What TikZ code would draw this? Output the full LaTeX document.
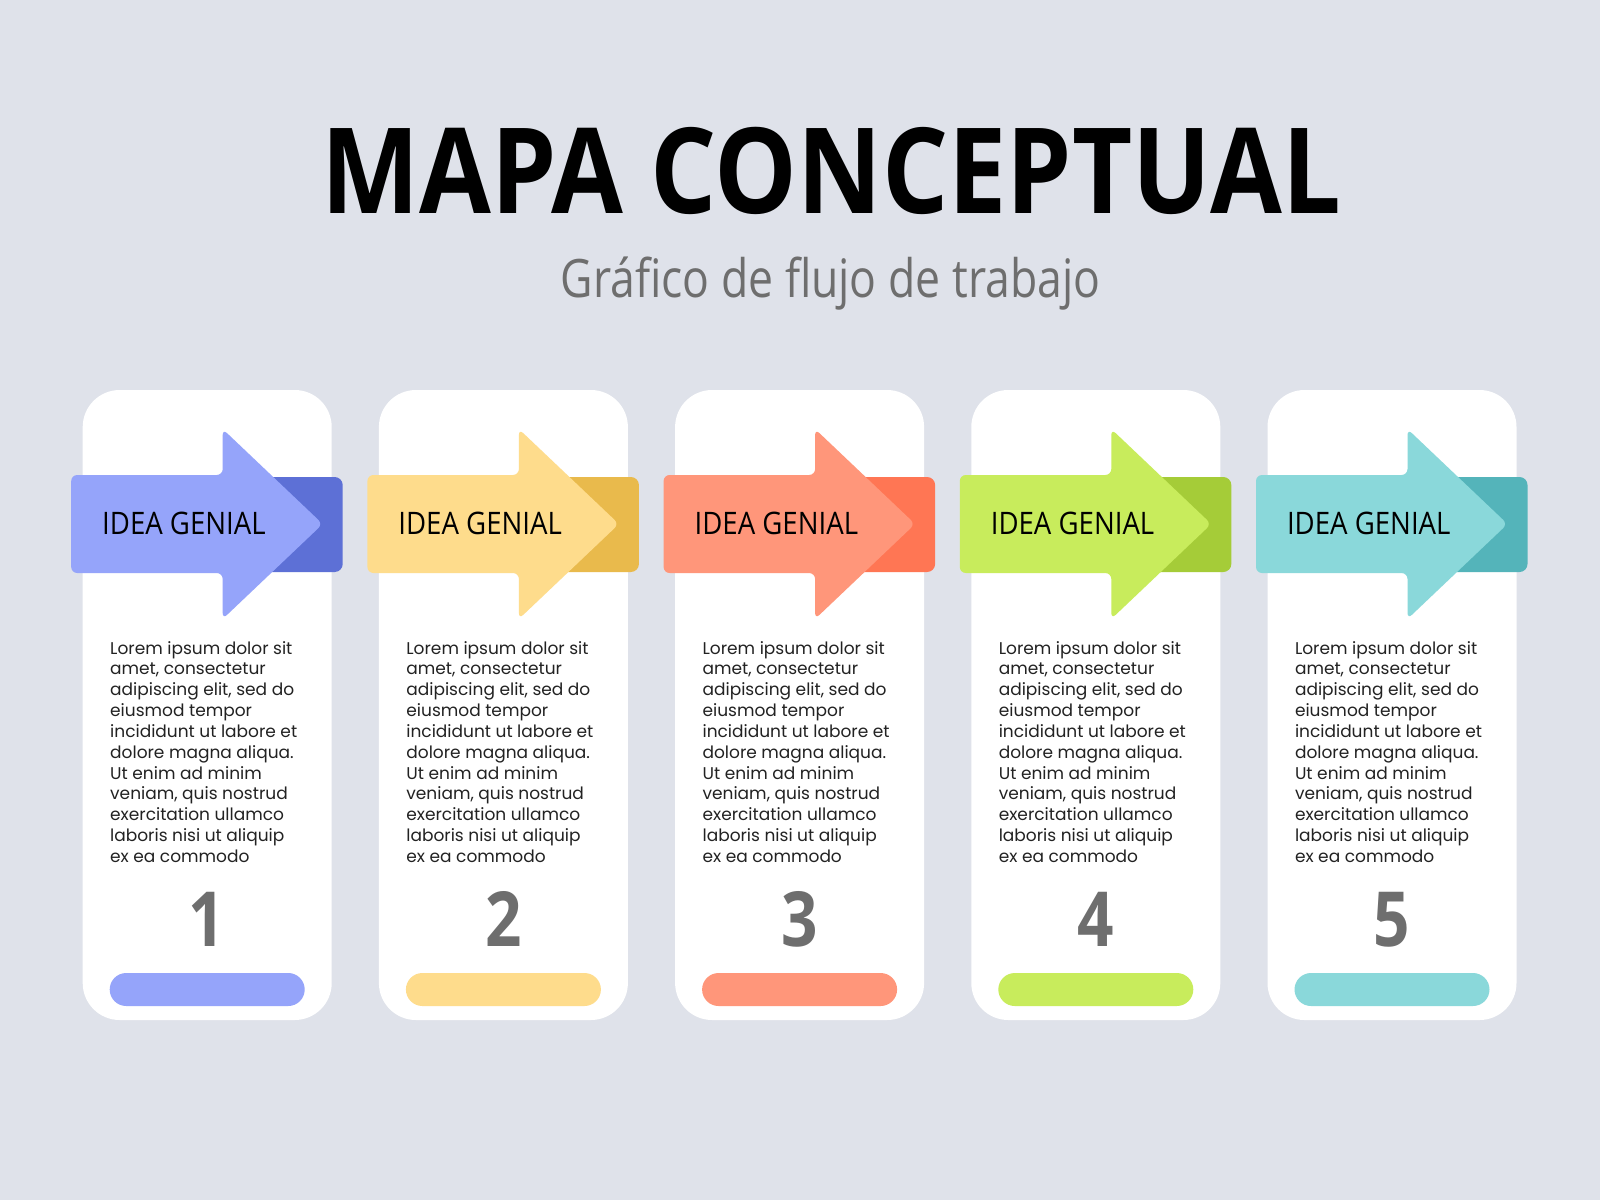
\documentclass[tikz,border=0pt]{standalone}
\usepackage{fontspec}
\setmainfont{Open Sans}
\newfontfamily\titlefont[FakeStretch=0.875]{Open Sans}
\newfontfamily\condfont[FakeStretch=0.84]{Open Sans}
\newfontfamily\ideafont[FakeStretch=0.89]{Open Sans}
\newfontfamily\bodyfont{Poppins}

\definecolor{bgcol}{HTML}{DFE2EA}
\definecolor{blueL}{HTML}{95A4FA}
\definecolor{blueD}{HTML}{5D70D6}
\definecolor{yellowL}{HTML}{FEDC8C}
\definecolor{yellowD}{HTML}{E9BA4C}
\definecolor{orangeL}{HTML}{FF967A}
\definecolor{orangeD}{HTML}{FF7654}
\definecolor{greenL}{HTML}{C8EC5C}
\definecolor{greenD}{HTML}{A5CC38}
\definecolor{tealL}{HTML}{8AD8DA}
\definecolor{tealD}{HTML}{54B4BA}
\definecolor{numgray}{HTML}{6E6E6E}
\definecolor{bodyink}{HTML}{222222}

\newcommand{\loremtext}{Lorem ipsum dolor sit\\ amet, consectetur\\ adipiscing elit, sed do\\ eiusmod tempor\\ incididunt ut labore et\\ dolore magna aliqua.\\ Ut enim ad minim\\ veniam, quis nostrud\\ exercitation ullamco\\ laboris nisi ut aliquip\\ ex ea commodo}

\tikzset{
  titletext/.style={anchor=base, inner sep=0, font=\titlefont\bfseries\fontsize{119}{119}\selectfont},
  subtext/.style={anchor=base, inner sep=0, text=numgray, font=\condfont\fontsize{53}{53}\selectfont},
  ideatext/.style={anchor=base west, inner sep=0, font=\ideafont\fontsize{31}{31}\selectfont},
  bodytext/.style={anchor=north west, inner sep=0, align=left, text=bodyink, font=\bodyfont\fontsize{17}{20.83}\selectfont},
  numtext/.style={anchor=base, inner sep=0, text=numgray, font=\condfont\bfseries\fontsize{76}{76}\selectfont},
}

\begin{document}
\begin{tikzpicture}[x=1pt,y=-1pt]
  \fill[bgcol] (0,0) rectangle (1600,1200);
  \useasboundingbox (0,0) rectangle (1600,1200);

  \node[titletext] (title) at (831,213) {MAPA CONCEPTUAL};
  \node[subtext] (subtitle) at (830.5,297) {Gráfico de flujo de trabajo};

  \foreach \i/\lite/\dark in {1/blueL/blueD, 2/yellowL/yellowD, 3/orangeL/orangeD, 4/greenL/greenD, 5/tealL/tealD} {
    \begin{scope}[shift={({82.7+(\i-1)*296.2},0)}]
      % card
      \fill[white, rounded corners=37] (0,390) rectangle (249,1020);
      % arrow with its shadow block
      \fill[\dark, rounded corners=8] (180,477) rectangle (260,572);
      \fill[\lite, rounded corners=6] (-11.5,475) -- (140,475) -- (140,429) -- (240,524)
        -- (140,619) -- (140,573) -- (-11.5,573) -- cycle;
      \node[ideatext] (idea\i) at (19.3,534.5) {IDEA GENIAL};
      \node[bodytext] (body\i) at (27.3,641) {\loremtext};
      \node[numtext] (num\i) at (124.5,946.5) {\i};
      \fill[\lite, rounded corners=16.5] (27,973) rectangle (222,1006);
    \end{scope}
  }
\end{tikzpicture}
\end{document}
